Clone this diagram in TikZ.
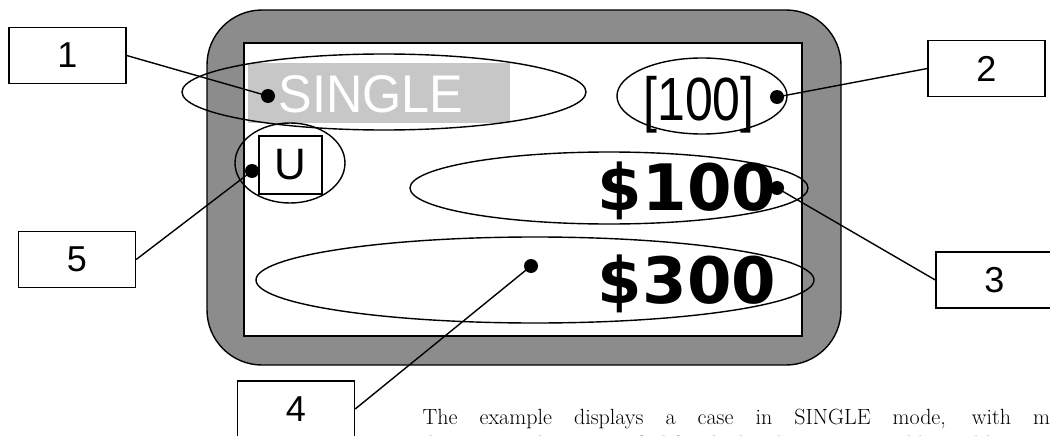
\documentclass[tikz,border=0pt]{standalone}
\usepackage{fontspec}
\newfontfamily\gothic{Liberation Sans}
\newfontfamily\wide{DejaVu Sans}
\usetikzlibrary{shapes}

\begin{document}
\begin{tikzpicture}[x=1pt, y=-1pt, line width=1.4pt,
    tag/.style={draw, fill=white, inner sep=0pt, minimum width=117pt, minimum height=56pt,
        font=\gothic\fontsize{36}{36}\selectfont},
    dot/.style={circle, fill, inner sep=0pt, minimum size=14pt},
    amount/.style={anchor=base, font=\wide\bfseries\fontsize{64}{64}\selectfont}]
    \clip (0,0) rectangle (1050,436);
    \draw[fill=black!45, rounded corners=55pt] (207,10) rectangle (841,365);
    \draw[fill=white] (244,43) rectangle (802,336);
    \fill[black!22] (248,63) rectangle (510,123);
    \node [anchor=base, text=white, xscale=.95, font=\gothic\fontsize{53}{53}\selectfont] (single) at (371,112) {SINGLE};
    \node [anchor=base, xscale=.82, font=\gothic\fontsize{61}{61}\selectfont] (bet) at (699,120) {[100]};
    \node [draw, inner sep=0pt, minimum width=63pt, minimum height=58pt, font=\gothic\fontsize{44}{44}\selectfont] (unit) at (290.5,165) {U};
    \node [amount] (last) at (687,210) {\$100};
    \node [amount] (total) at (687,303) {\$300};
    \draw (384,92) ellipse [x radius=202, y radius=38];
    \draw (702,96) ellipse [x radius=85, y radius=38];
    \draw (290,163) ellipse [x radius=55, y radius=40];
    \draw (609,188) ellipse [x radius=199, y radius=36];
    \draw (535,280) ellipse [x radius=279, y radius=43];
    \node [dot] (p1) at (268,96) {};
    \node [dot] (p2) at (777,97) {};
    \node [dot] (p3) at (777,188) {};
    \node [dot] (p4) at (531,266) {};
    \node [dot] (p5) at (252,171) {};
    \node [tag] (b1) at (67.5,55.5) {1};
    \node [tag] (b2) at (986.5,68.5) {2};
    \node [tag] (b3) at (994.5,280) {3};
    \node [tag] (b4) at (296,409) {4};
    \node [tag] (b5) at (77,259.5) {5};
    \draw (b1.east) -- (p1.center);
    \draw (b2.west) -- (p2.center);
    \draw (b3.west) -- (p3.center);
    \draw (b4.east) -- (p4.center);
    \draw (b5.east) -- (p5.center);
    \node [anchor=north west, inner sep=0pt, text width=690pt, align=justify, font=\fontsize{22}{27}\selectfont] (note) at (422,408)
        {The example displays a case in SINGLE mode, with magnetic\linebreak detection with 100 specified for the last bet amount, additional bets};
\end{tikzpicture}
\end{document}
